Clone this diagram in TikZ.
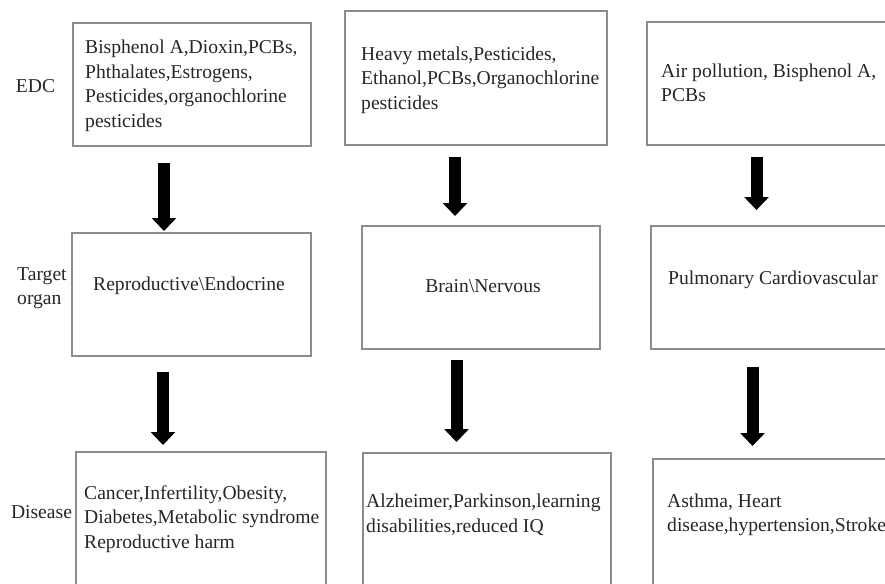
\documentclass[tikz,border=0pt]{standalone}
\usepackage{fontspec}
\setmainfont{Liberation Serif}
\usetikzlibrary{arrows.meta}
\begin{document}
\begin{tikzpicture}[x=1pt,y=-1pt,
    box/.style={draw=black!45,line width=1.2pt,rectangle,anchor=north west,outer sep=0pt,inner sep=0pt},
    txt/.style={inner sep=0pt,align=left,text=black!85,font=\fontsize{19.6}{24.5}\selectfont},
    bigarrow/.style={line width=12pt,-{Triangle[width=24pt,length=13pt]}}]
  \clip (0,0) rectangle (885,583);
  % EDC
  \node[box,minimum width=238pt,minimum height=123pt] (b11) at (73,23) {};
  \node[box,minimum width=262pt,minimum height=134pt] (b12) at (345,11) {};
  \node[box,minimum width=241pt,minimum height=123pt] (b13) at (647,22) {};
  \node[txt,anchor=west] (t11) at (85,86) {Bisphenol A,Dioxin,PCBs,\\Phthalates,Estrogens,\\Pesticides,organochlorine\\pesticides};
  \node[txt,anchor=west] (t12) at (361,80) {Heavy metals,Pesticides,\\Ethanol,PCBs,Organochlorine\\pesticides};
  \node[txt,anchor=west] (t13) at (661,83) {Air pollution, Bisphenol A,\\PCBs};
  % Target organ
  \node[box,minimum width=239pt,minimum height=123pt] (b21) at (72,233) {};
  \node[box,minimum width=238pt,minimum height=123pt] (b22) at (362,226) {};
  \node[box,minimum width=237pt,minimum height=123pt] (b23) at (651,226) {};
  \node[txt] (t21) at (189,286) {Reproductive\textbackslash Endocrine};
  \node[txt] (t22) at (483,286) {Brain\textbackslash Nervous};
  \node[txt,anchor=west] (t23) at (668,280) {Pulmonary Cardiovascular};
  % Disease
  \node[box,minimum width=250pt,minimum height=140pt] (b31) at (76,452) {};
  \node[box,minimum width=248pt,minimum height=140pt] (b32) at (363,453) {};
  \node[box,minimum width=235pt,minimum height=140pt] (b33) at (653,459) {};
  \node[txt,anchor=west] (t31) at (84,519) {Cancer,Infertility,Obesity,\\Diabetes,Metabolic syndrome\\Reproductive harm};
  \node[txt,anchor=west] (t32) at (366,515) {Alzheimer,Parkinson,learning\\disabilities,reduced IQ};
  \node[txt,anchor=west] (t33) at (667,515) {Asthma, Heart\\disease,hypertension,Stroke};
  % row labels
  \node[txt] (edc) at (35.5,86) {EDC};
  \node[txt,anchor=west] (organ) at (17,288) {Target\\organ};
  \node[txt] (disease) at (41.5,512) {Disease};
  % arrows
  \foreach \a/\b/\x/\s/\e in {b11/b21/164/17/2, b21/b31/163/16/7, b12/b22/455/12/10,
                              b22/b32/456.5/11/11, b13/b23/756.5/12/16, b23/b33/752.5/18/13} {
    \coordinate (ax) at (\x,0);
    \draw[bigarrow,shorten <=\s pt,shorten >=\e pt] (\a.south -| ax) -- (\b.north -| ax);
  }
\end{tikzpicture}
\end{document}
